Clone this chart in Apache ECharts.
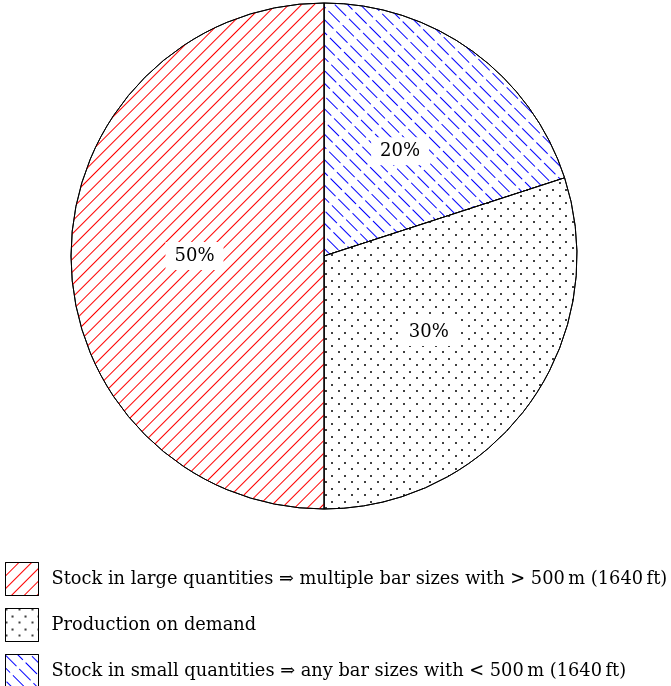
<!DOCTYPE html>
<html>
<head>
<meta charset="utf-8">
<script src="https://cdn.jsdelivr.net/npm/echarts@6/dist/echarts.min.js"></script>
<style>
  html, body { margin: 0; padding: 0; background: #fff; }
  #chart { width: 671px; height: 686px; }
</style>
</head>
<body>
<div id="chart"></div>
<script>
// Shares of the production strategies (percent), clockwise from 12 o'clock
const categories = [
  'Stock in small quantities \u21D2 any bar sizes with < 500\u2009m (1640\u2009ft)',
  'Production on demand',
  'Stock in large quantities \u21D2 multiple bar sizes with > 500\u2009m (1640\u2009ft)'
];
const shares = [20, 30, 50];
const legendOrder = [categories[2], categories[1], categories[0]];

const FONT = '"DejaVu Serif", "Liberation Serif", serif';

// Fill textures: dashed blue "\" hatching, staggered black dots, solid red "/" hatching
const decals = [
  { symbol: 'rect', symbolSize: 1, color: '#0000ff',
    dashArrayX: [16, 4], dashArrayY: [1, 8], rotation: Math.PI / 4 },
  { symbol: 'circle', symbolSize: 1, color: '#000000',
    dashArrayX: [[2, 11], [0, 6, 2, 5]], dashArrayY: [2, 5, 2, 4], rotation: 0 },
  { symbol: 'rect', symbolSize: 1, color: '#ff0000',
    dashArrayX: [1, 0], dashArrayY: [1, 8], rotation: -Math.PI / 4 }
];

const chart = echarts.init(document.getElementById('chart'), null, { renderer: 'canvas' });
chart.setOption({
  animation: false,
  backgroundColor: '#fff',
  legend: {
    data: legendOrder,
    orient: 'vertical',
    left: 5,
    top: 562,
    height: 200,
    padding: 0,
    itemWidth: 33,
    itemHeight: 33,
    itemGap: 12,
    icon: 'rect',
    selectedMode: false,
    itemStyle: { borderColor: '#000', borderWidth: 1 },
    textStyle: {
      fontFamily: FONT,
      fontSize: 17.8,
      color: '#000',
      padding: [0, 0, 0, 8]
    }
  },
  series: [{
    type: 'pie',
    center: [324, 256],
    radius: 253,
    startAngle: 90,
    clockwise: true,
    emphasis: { disabled: true },
    itemStyle: { borderColor: '#000', borderWidth: 1, color: '#ffffff' },
    label: {
      show: true,
      position: 'inside',
      formatter: p => p.value + '%',
      fontFamily: FONT,
      fontSize: 18,
      color: '#000',
      backgroundColor: '#fff',
      padding: [5, 9]
    },
    labelLine: { show: false },
    data: categories.map((name, i) => ({
      name: name,
      value: shares[i],
      itemStyle: { color: '#ffffff', decal: decals[i] }
    }))
  }]
});
</script>
</body>
</html>
